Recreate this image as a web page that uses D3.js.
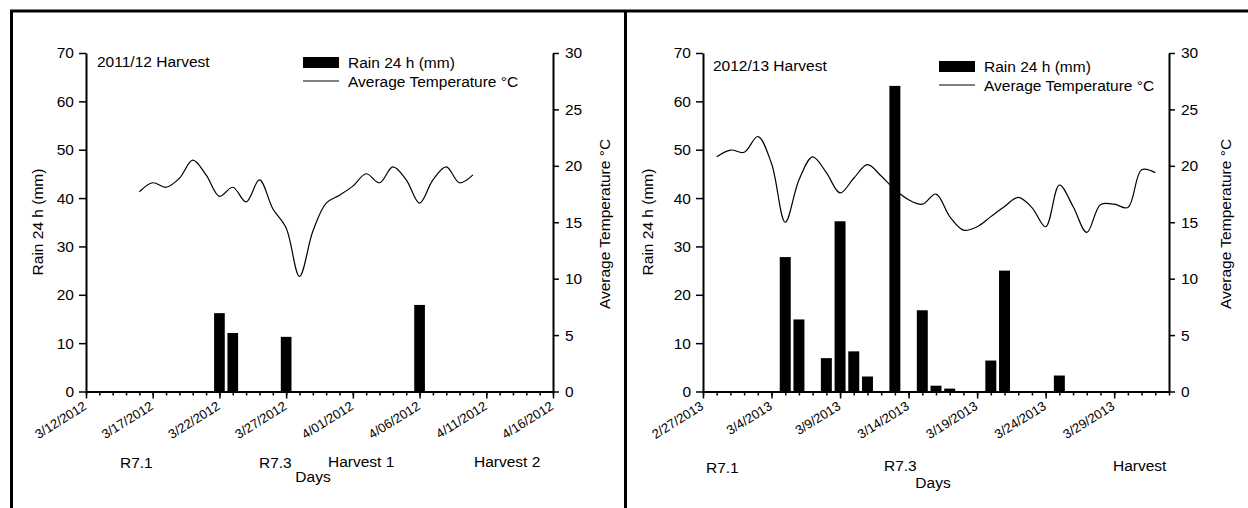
<!DOCTYPE html>
<html>
<head>
<meta charset="utf-8">
<script src="https://cdn.jsdelivr.net/npm/d3@7"></script>
<style>
  body { margin: 0; background: #fff; }
  svg { display: block; font-family: "Liberation Sans", Arial, sans-serif; }
</style>
</head>
<body>
<svg id="chart" width="1248" height="508"></svg>
<script>
// ---- 2011/12 harvest ----
const domain12 = ["3/12/2012", "4/16/2012"];
const ticks12 = ["3/12/2012", "3/17/2012", "3/22/2012", "3/27/2012", "4/01/2012", "4/06/2012", "4/11/2012", "4/16/2012"];
const rainDays12 = ["3/22/2012", "3/23/2012", "3/27/2012", "4/06/2012"];
const rain12 = [16.2, 12.1, 11.3, 17.9];
const tempStart12 = "3/16/2012";
const temp12 = [17.7, 18.5, 18.1, 18.9, 20.5, 19.2, 17.3, 18.1, 16.8, 18.75, 16.2, 14.5, 10.2,
                14.2, 16.7, 17.4, 18.2, 19.3, 18.5, 19.9, 18.75, 16.7, 18.75, 19.9, 18.5, 19.2];
const stages12 = ["R7.1", "R7.3", "Harvest 1", "Harvest 2"];

// ---- 2012/13 harvest ----
const domain13 = ["2/27/2013", "4/2/2013"];
const ticks13 = ["2/27/2013", "3/4/2013", "3/9/2013", "3/14/2013", "3/19/2013", "3/24/2013", "3/29/2013"];
const rainDays13 = ["3/5/2013", "3/6/2013", "3/8/2013", "3/9/2013", "3/10/2013", "3/11/2013", "3/13/2013",
                    "3/15/2013", "3/16/2013", "3/17/2013", "3/20/2013", "3/21/2013", "3/25/2013"];
const rain13 = [27.8, 14.9, 6.9, 35.2, 8.3, 3.1, 63.2, 16.8, 1.2, 0.6, 6.4, 25.0, 3.3];
const tempStart13 = "2/28/2013";
const temp13 = [20.8, 21.4, 21.2, 22.6, 20.2, 15.0, 18.75, 20.8, 19.4, 17.6, 18.9, 20.1, 19.1, 17.9,
                17.0, 16.6, 17.5, 15.5, 14.3, 14.6, 15.5, 16.4, 17.2, 16.3, 14.6, 18.3, 16.4, 14.1,
                16.55, 16.6, 16.3, 19.65, 19.4];
const stages13 = ["R7.1", "R7.3", "Harvest"];

const rainTicks = [0, 10, 20, 30, 40, 50, 60, 70];
const tempTicks = [0, 5, 10, 15, 20, 25, 30];

const svg = d3.select("#chart");
const parse = d3.utcParse("%m/%d/%Y");
const FS = "15.5px";

// frame
svg.append("line").attr("x1", 10).attr("x2", 1248).attr("y1", 11).attr("y2", 11)
  .attr("stroke", "#000").attr("stroke-width", 3);
svg.append("line").attr("x1", 11.5).attr("x2", 11.5).attr("y1", 10).attr("y2", 508)
  .attr("stroke", "#000").attr("stroke-width", 3);
svg.append("line").attr("x1", 625.5).attr("x2", 625.5).attr("y1", 10).attr("y2", 508)
  .attr("stroke", "#000").attr("stroke-width", 3);

function drawPanel(p) {
  const x = d3.scaleUtc().domain(p.domain.map(parse)).range([p.left, p.right]);
  const yRain = d3.scaleLinear().domain([0, 70]).range([391.5, 53]);
  const yTemp = d3.scaleLinear().domain([0, 30]).range([391.5, 53]);
  const g = svg.append("g");

  const d0 = x.domain()[0];
  const dayW = x(d3.utcDay.offset(d0, 1)) - x(d0);
  const bw = dayW * 0.8;

  const bars = p.rainDays.map((d, i) => ({ date: parse(d), v: p.rain[i] }));
  const temps = p.temp.map((v, i) => ({ date: d3.utcDay.offset(parse(p.tempStart), i), v }));

  g.selectAll("rect.bar").data(bars).join("rect")
    .attr("class", "bar")
    .attr("x", d => x(d.date) - bw / 2)
    .attr("width", bw)
    .attr("y", d => yRain(d.v))
    .attr("height", d => yRain(0) - yRain(d.v))
    .attr("fill", "#000");

  const line = d3.line()
    .x(d => x(d.date))
    .y(d => yTemp(d.v))
    .curve(d3.curveCatmullRom.alpha(0.5));

  g.append("path").datum(temps)
    .attr("d", line)
    .attr("fill", "none")
    .attr("stroke", "#000")
    .attr("stroke-width", 1.2);

  // x axis: minor daily ticks
  g.append("g")
    .attr("transform", `translate(0,${yRain(0)})`)
    .call(d3.axisBottom(x).ticks(d3.utcDay.every(1)).tickSize(4).tickSizeOuter(0).tickFormat(""))
    .call(a => a.select(".domain").remove())
    .call(a => a.selectAll(".tick line").attr("stroke-width", 1.5));

  // x axis: major ticks with labels
  const xMajor = g.append("g")
    .attr("transform", `translate(0,${yRain(0)})`)
    .call(d3.axisBottom(x).tickValues(p.ticks.map(parse)).tickSize(7).tickSizeOuter(0)
      .tickFormat((d, i) => p.ticks[i]));
  xMajor.select(".domain").attr("stroke-width", 2);
  xMajor.selectAll(".tick line").attr("stroke-width", 1.5);
  xMajor.selectAll(".tick text")
    .attr("x", 0).attr("y", 0).attr("dy", 0)
    .attr("transform", "translate(1,17) rotate(-32)")
    .attr("text-anchor", "end")
    .attr("fill", "#000")
    .style("font-size", "13px")
    .style("font-family", "\"Liberation Sans\", Arial, sans-serif");

  // left axis
  const yl = g.append("g")
    .attr("transform", `translate(${p.left},0)`)
    .call(d3.axisLeft(yRain).tickValues(rainTicks).tickSize(7).tickPadding(5).tickSizeOuter(0));
  // right axis
  const yr = g.append("g")
    .attr("transform", `translate(${p.right},0)`)
    .call(d3.axisRight(yTemp).tickValues(tempTicks).tickSize(6).tickPadding(6).tickSizeOuter(0));
  [yl, yr].forEach(a => {
    a.select(".domain").attr("stroke-width", 2);
    a.selectAll(".tick line").attr("stroke-width", 1.5);
    a.selectAll(".tick text")
      .attr("fill", "#000")
      .style("font-size", FS)
      .style("font-family", "\"Liberation Sans\", Arial, sans-serif");
  });

  const txt = (s, tx, ty, opts = {}) => g.append("text")
    .attr("x", tx).attr("y", ty)
    .attr("text-anchor", opts.anchor || "start")
    .attr("transform", opts.rotate ? `rotate(-90,${tx},${ty})` : null)
    .style("font-size", FS)
    .attr("fill", "#000")
    .text(s);

  // axis titles
  txt("Rain 24 h (mm)", p.leftTitleX, 222, { anchor: "middle", rotate: true });
  txt("Average Temperature °C", p.rightTitleX, 224, { anchor: "middle", rotate: true });
  txt("Days", p.daysX, p.daysY, { anchor: "middle" });

  // panel title
  txt(p.title, p.titleX, p.titleY);

  // legend
  g.append("rect")
    .attr("x", p.legX).attr("y", p.legY - 11)
    .attr("width", 36).attr("height", 11)
    .attr("fill", "#000");
  txt("Rain 24 h (mm)", p.legX + 45, p.legY);
  g.append("line")
    .attr("x1", p.legX).attr("x2", p.legX + 36)
    .attr("y1", p.legY + 13).attr("y2", p.legY + 13)
    .attr("stroke", "#000").attr("stroke-width", 1.2);
  txt("Average Temperature °C", p.legX + 45, p.legY + 19);

  // stage annotations
  p.stages.forEach((s, i) => txt(s, p.stageX[i], p.stageY[i]));
}

drawPanel({
  domain: domain12, ticks: ticks12, rainDays: rainDays12, rain: rain12,
  tempStart: tempStart12, temp: temp12, stages: stages12,
  left: 86, right: 553,
  leftTitleX: 43, rightTitleX: 610,
  daysX: 313, daysY: 482,
  title: "2011/12 Harvest", titleX: 97, titleY: 67,
  legX: 303, legY: 68,
  stageX: [120, 259, 328, 474], stageY: [468, 468, 467, 467]
});

drawPanel({
  domain: domain13, ticks: ticks13, rainDays: rainDays13, rain: rain13,
  tempStart: tempStart13, temp: temp13, stages: stages13,
  left: 703, right: 1169,
  leftTitleX: 653, rightTitleX: 1231,
  daysX: 933, daysY: 488,
  title: "2012/13 Harvest", titleX: 713, titleY: 71,
  legX: 939, legY: 72,
  stageX: [706, 884, 1113], stageY: [473, 471, 471]
});
</script>
</body>
</html>
